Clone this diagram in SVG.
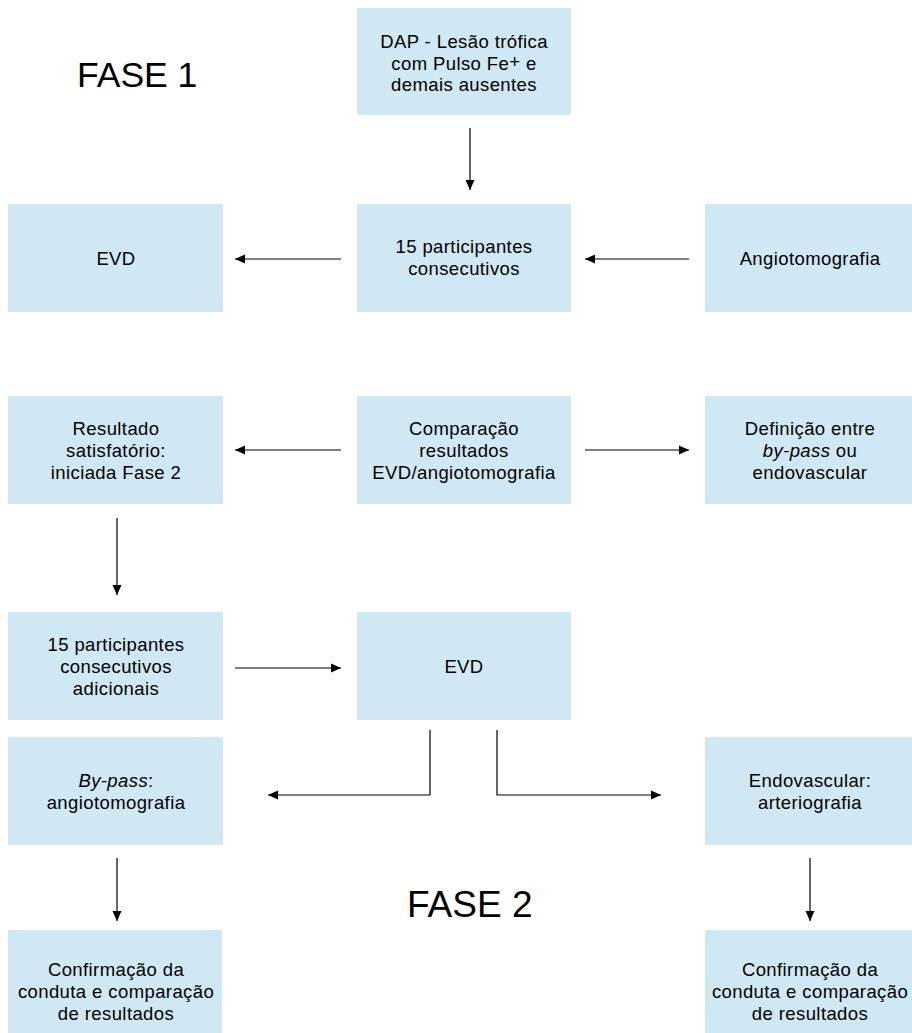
<svg xmlns="http://www.w3.org/2000/svg" width="912" height="1033" viewBox="0 0 912 1033">
<defs>
<marker id="ah" viewBox="0 0 10 10" refX="10" refY="5" markerWidth="10" markerHeight="10" markerUnits="userSpaceOnUse" orient="auto">
<path d="M0,0.5 L10,5 L0,9.5 Z" fill="#000"/>
</marker>
<style>
.box{fill:#d0e8f4;}
.t{font-family:"Liberation Sans",Arial,sans-serif;font-size:18.5px;letter-spacing:0.4px;fill:#000;text-anchor:middle;}
.big{font-family:"Liberation Sans",Arial,sans-serif;fill:#000;}
.c{stroke:#000;stroke-width:1.2;fill:none;}
.a{marker-end:url(#ah);}
</style>
</defs>
<rect width="912" height="1033" fill="#fff"/>
<text class="big" x="77" y="87" font-size="35.5">FASE 1</text>
<text class="big" x="407" y="917" font-size="37">FASE 2</text>

<g id="n-dap"><rect class="box" x="357" y="8" width="214" height="107"/>
<text class="t" x="464" y="48">DAP - Lesão trófica</text>
<text class="t" x="464" y="69.5">com Pulso Fe<tspan baseline-shift="2">+</tspan> e</text>
<text class="t" x="464" y="91">demais ausentes</text></g>

<g id="n-evd1"><rect class="box" x="8" y="204" width="215" height="108"/>
<text class="t" x="116" y="265">EVD</text></g>
<g id="n-15"><rect class="box" x="357" y="204" width="214" height="108"/>
<text class="t" x="464" y="253">15 participantes</text>
<text class="t" x="464" y="275">consecutivos</text></g>
<g id="n-angio"><rect class="box" x="705" y="204" width="215" height="108"/>
<text class="t" x="810" y="265">Angiotomografia</text></g>

<g id="n-result"><rect class="box" x="8" y="396" width="215" height="108"/>
<text class="t" x="116" y="435">Resultado</text>
<text class="t" x="116" y="457">satisfatório:</text>
<text class="t" x="116" y="479">iniciada Fase 2</text></g>
<g id="n-comp"><rect class="box" x="357" y="396" width="214" height="108"/>
<text class="t" x="464" y="435">Comparação</text>
<text class="t" x="464" y="457">resultados</text>
<text class="t" x="464" y="479">EVD/angiotomografia</text></g>
<g id="n-def"><rect class="box" x="705" y="396" width="215" height="108"/>
<text class="t" x="810" y="435">Definição entre</text>
<text class="t" x="810" y="457"><tspan font-style="italic">by-pass</tspan> ou</text>
<text class="t" x="810" y="479">endovascular</text></g>

<g id="n-15b"><rect class="box" x="8" y="612" width="215" height="108"/>
<text class="t" x="116" y="651">15 participantes</text>
<text class="t" x="116" y="673">consecutivos</text>
<text class="t" x="116" y="695">adicionais</text></g>
<g id="n-evd2"><rect class="box" x="357" y="612" width="214" height="108"/>
<text class="t" x="464" y="673">EVD</text></g>

<g id="n-bypass"><rect class="box" x="8" y="737" width="215" height="108"/>
<text class="t" x="116" y="787"><tspan font-style="italic">By-pass</tspan>:</text>
<text class="t" x="116" y="809">angiotomografia</text></g>
<g id="n-endo"><rect class="box" x="705" y="737" width="215" height="108"/>
<text class="t" x="810" y="787">Endovascular:</text>
<text class="t" x="810" y="809">arteriografia</text></g>

<g id="n-conf1"><rect class="box" x="8" y="930" width="214" height="108"/>
<text class="t" x="116" y="976">Confirmação da</text>
<text class="t" x="116" y="998">conduta e comparação</text>
<text class="t" x="116" y="1020">de resultados</text></g>
<g id="n-conf2"><rect class="box" x="705" y="930" width="215" height="108"/>
<text class="t" x="810" y="976">Confirmação da</text>
<text class="t" x="810" y="998">conduta e comparação</text>
<text class="t" x="810" y="1020">de resultados</text></g>

<g id="connectors">
<path class="c a" d="M470,128 V190"/>
<path class="c a" d="M341,259 H235"/>
<path class="c a" d="M689,259 H585"/>
<path class="c a" d="M341,450 H235"/>
<path class="c a" d="M585,450 H689"/>
<path class="c a" d="M117,518 V595"/>
<path class="c a" d="M235,668 H341"/>
<path class="c a" d="M430,730 V795 H268"/>
<path class="c a" d="M497,730 V795 H661"/>
<path class="c a" d="M117,858 V921"/>
<path class="c a" d="M810,858 V921"/>
</g>
</svg>
